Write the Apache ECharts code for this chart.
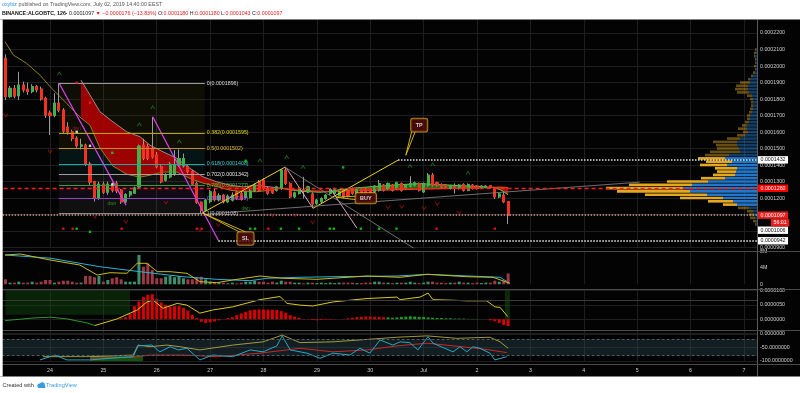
<!DOCTYPE html>
<html>
<head>
<meta charset="utf-8">
<title>BINANCE:ALGOBTC 126</title>
<script src="https://cdn.jsdelivr.net/npm/echarts@6.0.0/dist/echarts.min.js"></script>
<style>
html,body{margin:0;padding:0;background:#ffffff;}
#chart{width:800px;height:393px;}
</style>
</head>
<body>
<div id="chart"></div>
<script>
// ================= DATA (prices in units of 1e-7 BTC, time in 126-min bars from Jun 24 00:00) =================
const dayLabels = ['24','25','26','27','28','29','30','Jul','2','3','4','5','6','7'];
const barsPerDay = 12;
const firstBarOffset = -10;

const open  = [2047,1815,1865,1820,1885,1860,1845,1875,1860,1805, 1715,1700,1775,1733,1630,1602,1563,1515,1521,1406,
               1299,1202,1285,1236,1280,1290,1248,1178,1220,1230, 1268,1521,1511,1500,1460,1390,1309,1329,1345,1400,
               1395,1390,1360,1289,1175,1127,1180,1238,1190,1218, 1178,1188,1238,1228,1204,1204,1244,1299,1309,1260,
               1259,1248,1259,1370,1289,1208,1228,1250,1238,1225, 1168,1178,1198,1228,1230,1218,1244,1244,1259,1228,
               1250,1259,1255,1238,1248,1279,1259,1279,1259,1289, 1259,1273,1279,1289,1238,1279,1339,1293,1283,1279,
               1259,1268,1259,1283,1248,1279,1273,1265,1265,1275, 1259,1208,1218,1180];
const close = [1814,1865,1818,1885,1855,1845,1875,1855,1800,1703, 1700,1775,1733,1606,1600,1562,1517,1522,1406,1297,
               1198,1285,1236,1285,1248,1244,1178,1222,1238,1262, 1515,1441,1441,1450,1390,1299,1339,1405,1400,1440,
               1440,1360,1285,1175,1125,1188,1238,1190,1215,1178, 1212,1218,1198,1192,1238,1244,1279,1248,1259,1230,
               1232,1268,1370,1289,1208,1232,1259,1245,1268,1165, 1188,1198,1218,1248,1250,1238,1208,1215,1228,1259,
               1230,1228,1232,1273,1289,1248,1289,1248,1293,1248, 1279,1289,1293,1248,1289,1339,1279,1279,1268,1268,
               1273,1265,1279,1248,1283,1259,1259,1273,1273,1265, 1208,1225,1178,1097];
const low   = [1794,1805,1805,1794,1840,1825,1835,1840,1790,1685, 1582,1690,1720,1595,1585,1545,1505,1495,1395,1280,
               1180,1190,1225,1220,1235,1230,1165,1170,1205,1225, 1260,1430,1430,1440,1380,1290,1300,1320,1335,1390,
               1385,1350,1275,1165,1108,1120,1170,1180,1180,1168, 1170,1180,1190,1185,1198,1198,1238,1240,1250,1220,
               1225,1240,1250,1280,1200,1200,1222,1198,1230,1139, 1160,1170,1190,1220,1222,1210,1200,1205,1220,1222,
               1222,1220,1225,1230,1240,1240,1250,1240,1250,1240, 1250,1265,1270,1240,1232,1270,1270,1270,1260,1260,
               1252,1228,1252,1240,1242,1252,1252,1260,1260,1258, 1195,1200,1170,1043];
const high  = [2071,1880,1885,1965,1905,1900,1890,1885,1875,1815, 1730,1836,1896,1745,1660,1615,1575,1560,1530,1420,
               1305,1300,1300,1300,1295,1305,1255,1230,1245,1270, 1525,1560,1530,1692,1480,1400,1350,1420,1491,1495,
               1470,1400,1370,1300,1180,1195,1250,1260,1230,1225, 1222,1235,1245,1240,1245,1255,1290,1310,1320,1270,
               1265,1275,1375,1390,1295,1240,1265,1329,1275,1235, 1195,1205,1225,1255,1262,1245,1250,1250,1265,1265,
               1258,1265,1262,1280,1310,1285,1295,1285,1300,1295, 1285,1333,1300,1295,1295,1352,1352,1300,1290,1285,
               1280,1289,1285,1290,1290,1285,1278,1278,1278,1280, 1265,1232,1238,1180];
// volume in millions
const volume = [1.2,0.4,0.4,0.63,0.4,0.4,0.63,0.4,0.63,1.04, 1.04,0.4,0.63,0.87,0.87,0.63,0.4,0.4,2.0,2.0,
                1.7,2.0,0.63,1.04,1.45,1.7,1.2,0.63,0.63,0.63, 7.06,4.25,5.06,3.45,1.45,1.45,1.83,2.0,1.7,2.0,
                1.45,1.2,1.2,1.7,1.83,1.2,0.63,0.4,0.4,0.4, 0.24,0.4,0.24,0.4,0.63,0.63,0.87,0.63,0.63,0.4,
                0.63,0.4,0.87,0.63,0.63,0.4,0.4,0.24,0.4,0.4, 0.3,0.4,0.3,0.4,0.3,0.4,0.4,0.4,0.4,0.3,
                0.3,0.4,0.4,0.63,0.63,0.4,0.4,0.3,0.4,0.4, 0.4,0.63,0.4,0.3,0.4,0.63,0.63,0.4,0.4,0.3,
                0.4,0.4,0.63,0.4,0.4,0.3,0.4,0.3,0.4,0.4, 0.87,0.63,0.87,2.6];
const volMaSlowT = [-10.1,0,11.2,20.2,29.9,37.5,45,48.8,56.2,63.6,78,84.8,101.2,102.8];
const volMaSlowV = [7.06,6.3,4.24,3.04,1.83,1.2,0.87,1.45,1.69,1.83,2.0,2.41,1.69,0.63];
const volMaFastT = [-10.1,-6.7,0,6.7,10.6,13.5,17.3,19.6,21.8,24.1,27,30.8,33.7,37.5,41.1,47.2,52.4,60,71.3,78.7,84.8,93.7,99.6,103.4];
const volMaFastV = [7.06,7.3,5.86,4.65,2.24,2.8,2.65,5.06,5.06,3.04,3.04,2.65,0.63,0.39,1.04,2.0,1.45,1.2,2.0,1.69,2.41,1.83,1.69,0.24];

// MACD (units 1e-7)
const macdHist = [0,0,0,0,0,0,0,0,0,0, 0,0,0,0,0,0,0,0,0,0, 0,0,0,0,0,
                  0,3,7,18,45,62,77,85,87,70, 58,49,44,45,46,40,30,15,4,-9,
                  -13,-11,-8,-4,0,4,7,14,20,26, 31,33,34,34,33,33,32,28,23,14,
                  9,5,1,-1,-3,-4,-3,-2,-2,-1, 0,1,3,5,7,8,9,9,8,8,
                  7,6,5,6,8,9,10,9,8,8, 6,5,4,4,3,3,2,2,2,1,
                  1,1,0,0,-4,-7,-13,-20,-24];
const histGreenFrom = 86, histGreenTo = 108;
const macdSignalT = [10.1,15.1,19.6,21.8,23.2,25.4,28.6,30.8,33.7,36.6,41.1,47.2,51.7,53.3,56.2,59.1,63.6,67.4,71.3,78,78.7,83.2,85,86.1,90.6,93.7,98.2,100,101.2,102.9];
const macdSignalV = [-22,1,32,60,66,38,55,49,21,32,43,68,79,55,49,46,60,66,72,77,68,77,91,68,66,64,64,43,41,9];
const macdLineT = [-10.1,-3.8,0,3.8,8.3,10.1];
const macdLineV = [-5,4,7,1,-13,-22];
const macdRefLevel = 67;

// Williams %R
const wrFastT = [-2.25,1.1,3.8,9,13.5,18.7,19.8,22.9,24.7,27,28.8,30.8,33.7,36.6,41.1,45,47.9,51,52.2,54,57.8,60.7,63.6,67.4,69.7,71.9,74.2,77.1,78.7,80.9,82.7,85,86.1,90.6,92.2,93.7,95.1,96.7,98.9,100,102.7];
const wrFastV = [-96,-78,-96,-96,-90,-84,-44,-41,-66,-47,-59,-53,-96,-78,-84,-59,-66,-44,-7,-59,-71,-90,-71,-78,-53,-71,-22,-41,-29,-32,-59,-10,-34,-66,-47,-66,-47,-53,-71,-96,-84];
const wrOliveT = [-1.6,9,18.7,19.8,22.5,26.3,29.2,33.7,41.1,47.9,52.2,56.2,63.6,71.3,78,84.8,91.5,98.9,101.2,103];
const wrOliveV = [-84,-84,-78,-41,-47,-41,-47,-59,-41,-29,-4,-32,-29,-20,-12,-7,-16,-12,-29,-53];
const wrRedT = [9,18.7,22.5,29.9,37.5,47.2,56.2,63.6,71.3,78,84.8,93.7,98.9,102.7];
const wrRedV = [-90,-86,-78,-78,-84,-71,-53,-66,-59,-44,-34,-49,-59,-69];

// moving averages / cloud on price
const maSlowT = [-10.1,-8.25,-5.24,-2.25,0.38,3.75,6.97,9,11.24,14.16,17.24,20.23,22.48,25.4,28.5,31.5,34.4,37.5,40.5,43.4,46.5,49.5,51.7];
const maSlowP = [2147,2067,2016,1945,1865,1774,1685,1642,1503,1394,1345,1327,1339,1358,1358,1319,1291,1270,1248,1239,1239,1248,1261];
const cloudUpT = [6.97,9,11.24,14.16,17.24,20.23,22.48,25.4,28.5,31.5,34.4,37.5,40.5,43.4,46.5,49.5,51.7];
const cloudUpP = [1915,1824,1723,1662,1602,1572,1521,1481,1441,1380,1329,1299,1279,1268,1279,1268,1261];
const lateT  = [51.7,56.2,60.7,62.9,65.2,69.7,74.2,78.7,83.2,87.7,92.2,96.7,99.5,101.2,103];
const fastP  = [1261,1242,1236,1240,1252,1264,1273,1282,1288,1282,1276,1270,1265,1252,1221];
const slowP  = [1261,1248,1242,1240,1242,1245,1248,1252,1255,1258,1261,1262,1265,1267,1264];

// Fibonacci retracement
const fibRatios = [0,0.382,0.5,0.618,0.702,0.786,0.886,1];
const fibPrices = [1896,1595,1502,1408,1342,1277,1198,1108];
const fibStartT = 2.02, fibEndT = 34.8;

// drawn trendlines [[t,p],[t,p]]
const magentaLines = [[[2.02,1897],[17.09,1158]], [[23.09,1693],[37.84,945]]];
const yellowLines  = [[[34.17,1109],[52.83,1388]], [[59.13,1139],[78.24,1430]]];
const pinkLines    = [[[53.2,1380],[59.1,1139]], [[62.95,1261],[69.02,1018]]];
const grayLines    = [[[52.83,1388],[83.18,873]], [[34.85,1103],[132.6,1297]]];

// horizontal levels
const pocLevel = 1260, lastPrice = 1097, tpLevel = 1432, slLevel = 942, extraLevel = 1006;
const tpLevelStartT = 78.24, slLevelStartT = 37.84;
const countdown = '56:01';

// callouts: label, box centre, pointer tip, pointer base corners
const callouts = [
  {text:'TP',  box:[83.0,1642], tip:[80.0,1460], c1:[81.3,1602], c2:[82.1,1602]},
  {text:'BUY', box:[71.0,1200], tip:[64.3,1206], c1:[69.0,1212], c2:[69.0,1190]},
  {text:'SL',  box:[43.95,956], tip:[34.4,1109], c1:[42.7,994],  c2:[44.1,994]}
];

// signal markers
const upSignalT = [2.09,20.08,23.09,29.07,47.21,53.21,56.88,80.94,86.04,93.97];
const upSignalP = [1956,1647,1752,1545,1430,1450,1390,1396,1406,1356];
const downSignalT = [-9.96,0,10.12,17.09,26.08,33.72,37.84,50.07,55.08,59.06,75.99,79.07,84.08,87.07,92.02];
const downSignalP = [1699,1481,1087,1056,1172,1006,1036,1097,1097,1053,1144,1147,1138,1164,1111];
const redDotT = [2.99,5.1,16.1,33,34.1,49.1,86.9,100,6,9];
const redDotP = [1015,1015,1015,1015,1015,1015,1015,1015,1899,1778];
const greenDotT = [6,9,45,46.1,51.9,56,62.9,63.8,69.9,74,77.9,14,65.9,44];
const greenDotP = [1015,996,1015,1015,1015,1015,1015,1015,1015,1015,1015,1475,1386,1426];
const whiteDotT = [6,9,14];
const whiteDotP = [1602,1517,1283];
const dwnT = [13.9,44,6];
const dwnP = [1168,1138,1622];

// volume profile (price bins, relative volume)
const profileBins = [1040,1060,1080,1100,1120,1140,1160,1180,1200,1220,1240,1260,1280,1300,1320,1340,1360,1380,1400,1420,
                     1440,1460,1480,1500,1520,1540,1560,1580,1600,1620,1640,1660,1680,1700,1720,1740,1760,1780,1800,1820,
                     1840,1860,1880,1900,1920,1940,1960,1980,2000,2020,2040,2060,2080,2100];
const profileUp   = [1,1,2,3,4,8,20,24,34,50,67,74,65,49,32,22,21,20,30,25,
                     32,28,17,18,20,20,17,12,9,10,10,8,7,7,5,4,4,4,4,5,
                     8,9,9,7,7,4,2,1,1,1,1,2,1,1];
const profileDown = [1,3,5,5,6,11,14,25,43,62,73,77,63,41,24,22,19,22,27,26,
                     27,24,30,22,21,24,13,8,5,9,5,4,3,3,3,3,2,2,3,5,
                     12,13,12,10,2,2,2,1,2,1,1,1,2,1];
const valueAreaLow = 1160, valueAreaHigh = 1440;

// ================= CHART =================
const FONT = '"Liberation Sans", Arial, sans-serif';
const AX = '#cfcfcf';
const GRIDC = '#1e1e1e';
const FS = 5.3;
const xMax = 158.95;
const T = i => i + firstBarOffset;
const zip = (ts, vs) => ts.map((t, i) => [t, vs[i]]);
const fmtP = v => (v / 1e7).toFixed(7);
const NOLINE = {color: 'rgba(0,0,0,0)', width: 0};

const gridBase = {left: -3.376, right: 43, outerBoundsMode: 'none', containLabel: false};
const grids = [
  Object.assign({top: 16.5, height: 231.2}, gridBase),
  Object.assign({top: 251.1, height: 33.2}, gridBase),
  Object.assign({top: 290.5, height: 43}, gridBase),
  Object.assign({top: 334, height: 27}, gridBase),
  {left: 457, right: 43, top: 47.85, height: 178.2, outerBoundsMode: 'none', containLabel: false}
];

const xAxes = [0,1,2,3].map(gi => ({
  type: 'value', gridIndex: gi, min: -12, max: xMax, interval: barsPerDay,
  axisLine: {show: false}, axisTick: {show: false},
  splitLine: {show: true, lineStyle: {color: GRIDC, width: 1}},
  axisLabel: gi === 3 ? {show: true, color: AX, fontSize: FS, margin: 7,
    formatter: v => (v >= 0 && v % barsPerDay === 0 && dayLabels[v / barsPerDay]) ? dayLabels[v / barsPerDay] : ''} : {show: false}
}));
xAxes.push({type: 'value', gridIndex: 4, min: 0, max: 300, inverse: true, show: false});

const yLab = (f) => ({color: AX, fontSize: FS, margin: 3, formatter: f});
const yAxes = [
  {type: 'value', gridIndex: 0, position: 'right', min: 900, max: 2300, interval: 100, axisLine: {show: false}, axisTick: {show: false},
   splitLine: {lineStyle: {color: GRIDC}}, axisLabel: yLab(v => v >= 2300 ? '' : fmtP(v))},
  {type: 'value', gridIndex: 1, position: 'right', min: 0, max: 8, interval: 4, axisLine: {show: false}, axisTick: {show: false},
   splitLine: {show: false}, axisLabel: yLab(v => v === 0 ? '0' : v + 'M')},
  {type: 'value', gridIndex: 2, position: 'right', min: -50, max: 100, interval: 50, axisLine: {show: false}, axisTick: {show: false},
   splitLine: {lineStyle: {color: GRIDC}}, axisLabel: yLab(v => v < 0 ? '' : fmtP(v))},
  {type: 'value', gridIndex: 3, position: 'right', min: -100, max: 0, interval: 50, axisLine: {show: false}, axisTick: {show: false},
   splitLine: {lineStyle: {color: GRIDC}}, axisLabel: yLab(v => v.toFixed(7))},
  {type: 'category', gridIndex: 4, data: profileBins.map(String), show: false}
];

const series = [];
const L = (name, data, color, width, extra) => Object.assign({
  type: 'line', name, data, xAxisIndex: 0, yAxisIndex: 0, showSymbol: false, symbol: 'none', silent: true,
  lineStyle: {color, width}, animation: false, clip: true
}, extra || {});

// --- Fibonacci zones + levels
const fibLineColors = ['#9a9a9a','#b5a800','#c08f2c','#1fa6a6','#a0a0a0','#2e9e3e','#8c4cc0','#8a8a8a'];
const fibLabelColors = ['#dcdcdc','#e8d800','#e8c040','#34d6d6','#e8e8e8','#44c844','#a866e6','#c0c0c0'];
const fibZoneColors = ['rgba(110,110,30,0.11)','rgba(150,120,20,0.10)','rgba(20,130,130,0.14)','rgba(40,110,110,0.11)',
                       'rgba(130,130,130,0.11)','rgba(110,70,150,0.13)','rgba(130,130,130,0.11)'];
series.push(L('fib', [[fibStartT, fibPrices[0]]], 'transparent', 0, {
  z: 1,
  markArea: {silent: true, data: fibZoneColors.map((c, i) => [
    {coord: [fibStartT, fibPrices[i]], itemStyle: {color: c}}, {coord: [fibEndT, fibPrices[i + 1]]}])},
  markLine: {silent: true, symbol: ['none','none'], animation: false, data: fibRatios.map((r, i) => [
    {coord: [fibStartT, fibPrices[i]], lineStyle: {color: fibLineColors[i], width: 1, type: 'solid'},
     label: {show: true, position: 'end', distance: 2, formatter: r + '(' + fmtP(fibPrices[i]) + ')', color: fibLabelColors[i], fontSize: FS}},
    {coord: [fibEndT, fibPrices[i]]}])}
}));

// --- volume profile (behind lines)
const inVA = i => profileBins[i] >= valueAreaLow && profileBins[i] <= valueAreaHigh;
series.push({type: 'bar', name: 'vpUp', xAxisIndex: 4, yAxisIndex: 4, stack: 'vp', barWidth: '80%', silent: true, animation: false, z: 1,
  data: profileUp.map((v, i) => ({value: v, itemStyle: {color: '#2277c9', opacity: inVA(i) ? 1 : 0.5}}))});
series.push({type: 'bar', name: 'vpDown', xAxisIndex: 4, yAxisIndex: 4, stack: 'vp', barWidth: '80%', silent: true, animation: false, z: 1,
  data: profileDown.map((v, i) => ({value: v, itemStyle: {color: '#e3a820', opacity: inVA(i) ? 1 : 0.45}}))});

// --- clouds
const cloudSegs = [
  {t: cloudUpT, a: cloudUpP, b: maSlowP.slice(6), color: 'rgba(178,0,0,0.88)'},
  {t: lateT.slice(0, 4), a: fastP.slice(0, 4), b: slowP.slice(0, 4), color: 'rgba(190,20,10,0.8)'},
  {t: lateT.slice(3, 13), a: fastP.slice(3, 13), b: slowP.slice(3, 13), color: 'rgba(40,150,30,0.75)'},
  {t: lateT.slice(12), a: fastP.slice(12), b: slowP.slice(12), color: 'rgba(200,20,10,0.85)'}
];
series.push({type: 'custom', name: 'cloud', xAxisIndex: 0, yAxisIndex: 0, silent: true, animation: false, clip: true, z: 2,
  data: cloudSegs.map(s => [s.t[0], s.a[0]]), encode: {x: 0, y: 1},
  renderItem: (params, api) => {
    const s = cloudSegs[params.dataIndex];
    const up = s.t.map((t, i) => api.coord([t, s.a[i]]));
    const lo = s.t.map((t, i) => api.coord([t, s.b[i]])).reverse();
    return {type: 'polygon', shape: {points: up.concat(lo)}, style: {fill: s.color}};
  }});
series.push(L('maSlow', zip(maSlowT, maSlowP), '#8f7f1c', 1));
series.push(L('cloudUp', zip(cloudUpT, cloudUpP), '#a8a8a8', 0.8));
series.push(L('fast', zip(lateT, fastP), '#66cc3c', 1));
series.push(L('slow', zip(lateT, slowP), '#e0401c', 1.2));

// --- candles
series.push({type: 'candlestick', name: 'wicks', xAxisIndex: 0, yAxisIndex: 0, barWidth: 2.6, silent: true, animation: false, z: 3,
  encode: {x: 0, y: [1, 2, 3, 4]},
  itemStyle: {color: 'transparent', color0: 'transparent', borderColor: '#9a9a9a', borderColor0: '#9a9a9a', borderWidth: 1},
  data: open.map((o, i) => [T(i), o, close[i], low[i], high[i]])});
series.push({type: 'candlestick', name: 'bodies', xAxisIndex: 0, yAxisIndex: 0, barWidth: 2.6, silent: true, animation: false, z: 3,
  encode: {x: 0, y: [1, 2, 3, 4]},
  itemStyle: {color: '#3fb24a', color0: '#f5321f', borderColor: '#3fb24a', borderColor0: '#f5321f', borderWidth: 1},
  data: open.map((o, i) => [T(i), o, close[i], Math.min(o, close[i]), Math.max(o, close[i])])});

// --- trendlines
const segSeries = (name, segs, color, width, type) => segs.forEach((s, k) =>
  series.push(L(name + k, s, color, width, {z: 4, lineStyle: {color, width, type: type || 'solid'}})));
segSeries('magenta', magentaLines, '#e23ff5', 1.2);
segSeries('yellow', yellowLines, '#e8d41a', 1);
segSeries('pink', pinkLines, '#d9a7c4', 1);
segSeries('gray', grayLines, '#7a7a7a', 0.9);

// --- horizontal levels with axis tags
const tag = (txt, bg, fg) => ({show: true, position: 'end', distance: 1, formatter: txt, backgroundColor: bg, color: fg,
  fontSize: FS, padding: [1.2, 2.5, 1.2, 2.5], opacity: 1});
series.push(L('levels', [[0, lastPrice]], 'transparent', 0, {z: 5,
  markLine: {silent: true, symbol: ['none','none'], animation: false, data: [
    {yAxis: pocLevel, lineStyle: {color: '#ff1c1c', width: 1.3, type: [4, 3]}, label: tag(fmtP(pocLevel), '#ff0000', '#ffffff')},
    {yAxis: lastPrice, lineStyle: {color: '#c99a9a', width: 1.6, type: [1.5, 1.5]}, label: tag(fmtP(lastPrice), '#e3201c', '#ffffff')},
    [{coord: [tpLevelStartT, tpLevel], lineStyle: {color: '#e6e6e6', width: 1.5, type: [1.5, 1.5]}, label: tag(fmtP(tpLevel), '#ffffff', '#111111')},
     {coord: [xMax, tpLevel]}],
    [{coord: [slLevelStartT, slLevel], lineStyle: {color: '#f0f0f0', width: 1.5, type: [1.5, 1.5]}, label: tag(fmtP(slLevel), '#ffffff', '#111111')},
     {coord: [xMax, slLevel]}]
  ]}}));
// tags without a visible line
series.push(L('tags', [[0, lastPrice]], 'transparent', 0, {z: 6,
  markLine: {silent: true, symbol: ['none','none'], animation: false, lineStyle: NOLINE, data: [
    {yAxis: extraLevel, lineStyle: NOLINE, label: tag(fmtP(extraLevel), '#ffffff', '#111111')},
    {yAxis: lastPrice, lineStyle: NOLINE, label: {show: true, position: 'end', distance: 1, padding: [0, 0, 0, 13],
      formatter: '{e|0}\n{e|0}\n{b|' + countdown + '}',
      rich: {e: {fontSize: FS, lineHeight: 7.6, color: 'rgba(0,0,0,0)'},
             b: {fontSize: FS, lineHeight: 7.6, color: '#ffffff', backgroundColor: '#e3201c', padding: [1.2, 2.5, 1.2, 2.5]}}}}
  ]}}));

// --- signal markers
const chevron = 'path://M0,8 L5,0 L10,8 L8,8 L5,3 L2,8 Z';
const sc = (name, data, extra) => Object.assign({type: 'scatter', name, xAxisIndex: 0, yAxisIndex: 0, data, silent: true, animation: false, z: 6}, extra);
series.push(sc('up', zip(upSignalT, upSignalP), {symbol: chevron, symbolSize: [5, 4], itemStyle: {color: '#1f8a24'}}));
series.push(sc('down', zip(downSignalT, downSignalP), {symbol: chevron, symbolSize: [5, 4], symbolRotate: 180, itemStyle: {color: '#b3141a'}}));
series.push(sc('redDot', zip(redDotT, redDotP), {symbol: 'rect', symbolSize: 2.4, itemStyle: {color: '#ff1a1a'}}));
series.push(sc('greenDot', zip(greenDotT, greenDotP), {symbol: 'rect', symbolSize: 2.4, itemStyle: {color: '#19e019'}}));
series.push(sc('whiteDot', zip(whiteDotT, whiteDotP), {symbol: 'rect', symbolSize: 2.4, itemStyle: {color: '#ffffff'}}));
series.push(sc('dwn', zip(dwnT, dwnP).map((d, i) => ({value: d, label: {color: i === 2 ? '#b02020' : '#2fb02f'}})),
  {symbolSize: 0, label: {show: true, position: 'inside', formatter: 'dwn', fontSize: 4.6}}));

// --- callouts
callouts.forEach((c, k) => {
  series.push(L('wedge' + k, [c.c1, c.tip, c.c2], '#e4c21c', 0.9, {z: 7}));
  series.push(sc('callout' + k, [c.box], {z: 8, symbolSize: 0,
    label: {show: true, position: 'inside', formatter: c.text, color: '#ffffff', fontWeight: 'bold', fontSize: 5.4,
      backgroundColor: '#560c0c', borderColor: '#cfa51c', borderWidth: 1, borderRadius: 2,
      padding: c.text === 'BUY' ? [2.6, 4.5, 2.6, 4.5] : [3.8, 4.6, 3.8, 4.6]}}));
});

// --- volume pane
series.push({type: 'bar', name: 'volume', xAxisIndex: 1, yAxisIndex: 1, barWidth: 3, silent: true, animation: false,
  data: volume.map((v, i) => ({value: [T(i), v], itemStyle: {color: close[i] >= open[i] ? '#3f8f6d' : '#9c3a46'}}))});
series.push(L('volMaSlow', zip(volMaSlowT, volMaSlowV), '#27b3d3', 1, {xAxisIndex: 1, yAxisIndex: 1}));
series.push(L('volMaFast', zip(volMaFastT, volMaFastV), '#c9bb1e', 1, {xAxisIndex: 1, yAxisIndex: 1}));

// --- MACD pane
series.push({type: 'bar', name: 'hist', xAxisIndex: 2, yAxisIndex: 2, barWidth: 3, silent: true, animation: false,
  data: macdHist.map((v, i) => ({value: [T(i), v], itemStyle: {color: (i >= histGreenFrom && i <= histGreenTo) ? '#1f9a2a' : '#d80000'}})),
  markArea: {silent: true, data: [
    [{coord: [-10, 100], itemStyle: {color: 'rgba(20,90,20,0.38)'}}, {coord: [18, 15]}],
    [{coord: [102.3, 100], itemStyle: {color: 'rgba(20,90,20,0.45)'}}, {coord: [103.4, 0]}]]},
  markLine: {silent: true, symbol: ['none','none'], animation: false, label: {show: false},
    data: [{yAxis: macdRefLevel, lineStyle: {color: '#3a3a3a', width: 1, type: 'solid'}}]}});
series.push(L('macdLine', zip(macdLineT, macdLineV), '#2a9a2a', 1, {xAxisIndex: 2, yAxisIndex: 2}));
series.push(L('macdSignal', zip(macdSignalT, macdSignalV), '#d8c81c', 1, {xAxisIndex: 2, yAxisIndex: 2}));

// --- Williams %R pane
series.push(L('wrRed', zip(wrRedT, wrRedV), '#c62828', 1, {xAxisIndex: 3, yAxisIndex: 3,
  markArea: {silent: true, data: [
    [{yAxis: -20, itemStyle: {color: 'rgba(45,75,85,0.38)'}}, {yAxis: -80}],
    [{coord: [9, -80], itemStyle: {color: 'rgba(30,140,30,0.6)'}}, {coord: [20.9, -100]}]]},
  markLine: {silent: true, symbol: ['none','none'], animation: false, label: {show: false}, data: [
    {yAxis: -20, lineStyle: {color: '#4d5d63', width: 1, type: [3, 2]}},
    {yAxis: -80, lineStyle: {color: '#4d5d63', width: 1, type: [3, 2]}}]}}));
series.push(L('wrOlive', zip(wrOliveT, wrOliveV), '#a39a3a', 1, {xAxisIndex: 3, yAxisIndex: 3}));
series.push(L('wrFast', zip(wrFastT, wrFastV), '#2aa6c6', 1, {xAxisIndex: 3, yAxisIndex: 3}));

// --- frame / header / footer
const sepY = [251.5, 289.5, 330.5, 364.5];
const graphic = [
  {type: 'rect', z: 100, silent: true, shape: {x: 0, y: 0, width: 800, height: 19.5}, style: {fill: '#ffffff'}},
  {type: 'rect', z: 100, silent: true, shape: {x: 0, y: 19.5, width: 2.7, height: 357}, style: {fill: '#ffffff'}},
  {type: 'rect', z: 100, silent: true, shape: {x: 0, y: 376.5, width: 800, height: 16.5}, style: {fill: '#ffffff'}},
  {type: 'line', z: 99, silent: true, shape: {x1: 757.5, y1: 19.5, x2: 757.5, y2: 376.5}, style: {stroke: '#5a5a5a', lineWidth: 1}}
].concat(sepY.map(y => ({type: 'line', z: 99, silent: true, shape: {x1: 2.7, y1: y, x2: 800, y2: y}, style: {stroke: '#4a4a4a', lineWidth: 1.2}})))
.concat([
  {type: 'text', z: 101, silent: true, x: 2, y: 5, style: {
    text: '{u|oxybiz}{g| published on TradingView.com, July 02, 2019 14:40:00 EEST}', verticalAlign: 'middle',
    rich: {u: {fill: '#2196f3', fontSize: FS, fontFamily: FONT}, g: {fill: '#555555', fontSize: FS, fontFamily: FONT}}}},
  {type: 'text', z: 101, silent: true, x: 2, y: 13.3, style: {
    text: '{b|BINANCE:ALGOBTC, 126\u00b7}{n| 0.0001097 }{r|\u25bc \u22120.0000176 (\u221213.83%)}{n| O:}{r|0.0001180}{n| H:}{r|0.0001180}{n| L:}{r|0.0001043}{n| C:}{r|0.0001097}',
    verticalAlign: 'middle',
    rich: {b: {fill: '#111111', fontWeight: 'bold', fontSize: FS, fontFamily: FONT},
           n: {fill: '#222222', fontSize: FS, fontFamily: FONT},
           r: {fill: '#e02020', fontSize: FS, fontFamily: FONT}}}},
  {type: 'text', z: 101, silent: true, x: 2.5, y: 385.6, style: {text: 'Created with', fill: '#333333', fontSize: 5.6, fontFamily: FONT, verticalAlign: 'middle'}},
  {type: 'circle', z: 101, silent: true, shape: {cx: 39.5, cy: 385.8, r: 2.2}, style: {fill: '#3a9bdc'}},
  {type: 'circle', z: 101, silent: true, shape: {cx: 42.3, cy: 384.8, r: 2.6}, style: {fill: '#3a9bdc'}},
  {type: 'rect', z: 101, silent: true, shape: {x: 38.5, y: 385.5, width: 6.8, height: 2.5}, style: {fill: '#3a9bdc'}},
  {type: 'text', z: 101, silent: true, x: 46, y: 385.6, style: {text: 'TradingView', fill: '#3a9bdc', fontSize: 5.6, fontFamily: FONT, verticalAlign: 'middle'}}
]);

const chart = echarts.init(document.getElementById('chart'), null, {renderer: 'canvas', width: 800, height: 393});
chart.setOption({
  backgroundColor: '#030303',
  animation: false,
  textStyle: {fontFamily: FONT},
  grid: grids,
  xAxis: xAxes,
  yAxis: yAxes,
  series: series,
  graphic: graphic
});
</script>
</body>
</html>
